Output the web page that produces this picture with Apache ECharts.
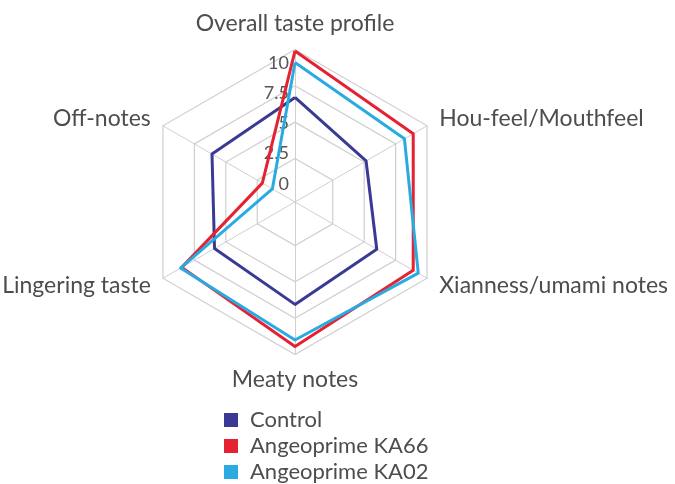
<!DOCTYPE html>
<html>
<head>
<meta charset="utf-8">
<script src="https://cdn.jsdelivr.net/npm/echarts@6/dist/echarts.min.js"></script>
<style>html,body{margin:0;padding:0;background:#fff;}#c{width:675px;height:484px;}</style>
</head>
<body>
<div id="c"></div>
<script>
// Indicators listed counter-clockwise starting at the top
const categories = ['Overall taste profile', 'Off-notes', 'Lingering taste', 'Meaty notes', 'Xianness/umami notes', 'Hou-feel/Mouthfeel'];
const seriesNames = ['Control', 'Angeoprime KA66', 'Angeoprime KA02'];
const control = [6.7, 6.1, 5.9, 6.55, 6.0, 5.15];
const ka66 = [9.9, 2.1, 8.5, 9.45, 8.9, 8.9];
const ka02 = [9.1, 1.3, 8.6, 9.0, 9.3, 8.2];
const tickValues = [0, 2.5, 5, 7.5, 10];
const tickLabels = ['0', '2.5', '5', '7.5', '10'];
const axisMin = -0.5;
const axisMax = 10;

const colors = ['#3a3a94', '#e52231', '#29abe2'];
const FONT = 'Lato';
const step = 0.5;

function splitCount(min, max) { return Math.round((max - min) / step); }
const nSplit = splitCount(axisMin, axisMax);
const ringColors = [];
for (let i = 0; i <= nSplit; i++) {
  const v = +(axisMin + i * step).toFixed(4);
  ringColors.push(tickValues.indexOf(v) > 0 ? '#cfcfcf' : 'rgba(0,0,0,0)');
}

// label scale of the reference sits on its own (slightly tighter) ruler
const labelMin = -1.5;
const labelSplit = splitCount(labelMin, axisMax);

const mainIndicator = categories.map(name => ({ name: name, min: axisMin, max: axisMax }));
const labelIndicator = categories.map((name, i) => {
  const o = { name: '', min: labelMin, max: axisMax };
  if (i === 0) {
    o.axisLabel = {
      show: true,
      color: '#555',
      fontFamily: FONT,
      fontSize: 18,
      margin: 6,
      formatter: function (v) {
        const k = tickValues.indexOf(+(+v).toFixed(4));
        return k >= 0 ? tickLabels[k] : '';
      }
    };
  }
  return o;
});

const chart = echarts.init(document.getElementById('c'));
chart.setOption({
  animation: false,
  legend: {
    orient: 'vertical',
    left: 224,
    top: 409,
    padding: 0,
    icon: 'rect',
    itemWidth: 14,
    itemHeight: 14,
    itemGap: 4,
    data: seriesNames,
    textStyle: { color: '#4d4d4d', fontSize: 22, lineHeight: 21, fontFamily: FONT, padding: [0, 0, 0, 7] }
  },
  radar: [{
    center: [295, 202],
    radius: 152.5,
    startAngle: 90,
    splitNumber: nSplit,
    shape: 'polygon',
    nameGap: 14,
    axisName: { color: '#4d4d4d', fontSize: 23, fontFamily: FONT },
    axisLine: { lineStyle: { color: '#cfcfcf', width: 1 } },
    splitLine: { lineStyle: { color: ringColors, width: 1.2 } },
    splitArea: { show: false },
    axisTick: { show: false },
    axisLabel: { show: false },
    indicator: mainIndicator
  }, {
    center: [295, 202],
    radius: 139.2,
    startAngle: 90,
    splitNumber: labelSplit,
    shape: 'polygon',
    axisName: { show: false },
    axisLine: { show: false },
    splitLine: { show: false },
    splitArea: { show: false },
    axisTick: { show: false },
    axisLabel: { show: false },
    indicator: labelIndicator
  }],
  series: [{
    type: 'radar',
    radarIndex: 0,
    symbol: 'none',
    data: [control, ka66, ka02].map((vals, i) => ({
      name: seriesNames[i],
      value: vals,
      lineStyle: { color: colors[i], width: 3 },
      itemStyle: { color: colors[i] }
    }))
  }]
});
</script>
</body>
</html>
